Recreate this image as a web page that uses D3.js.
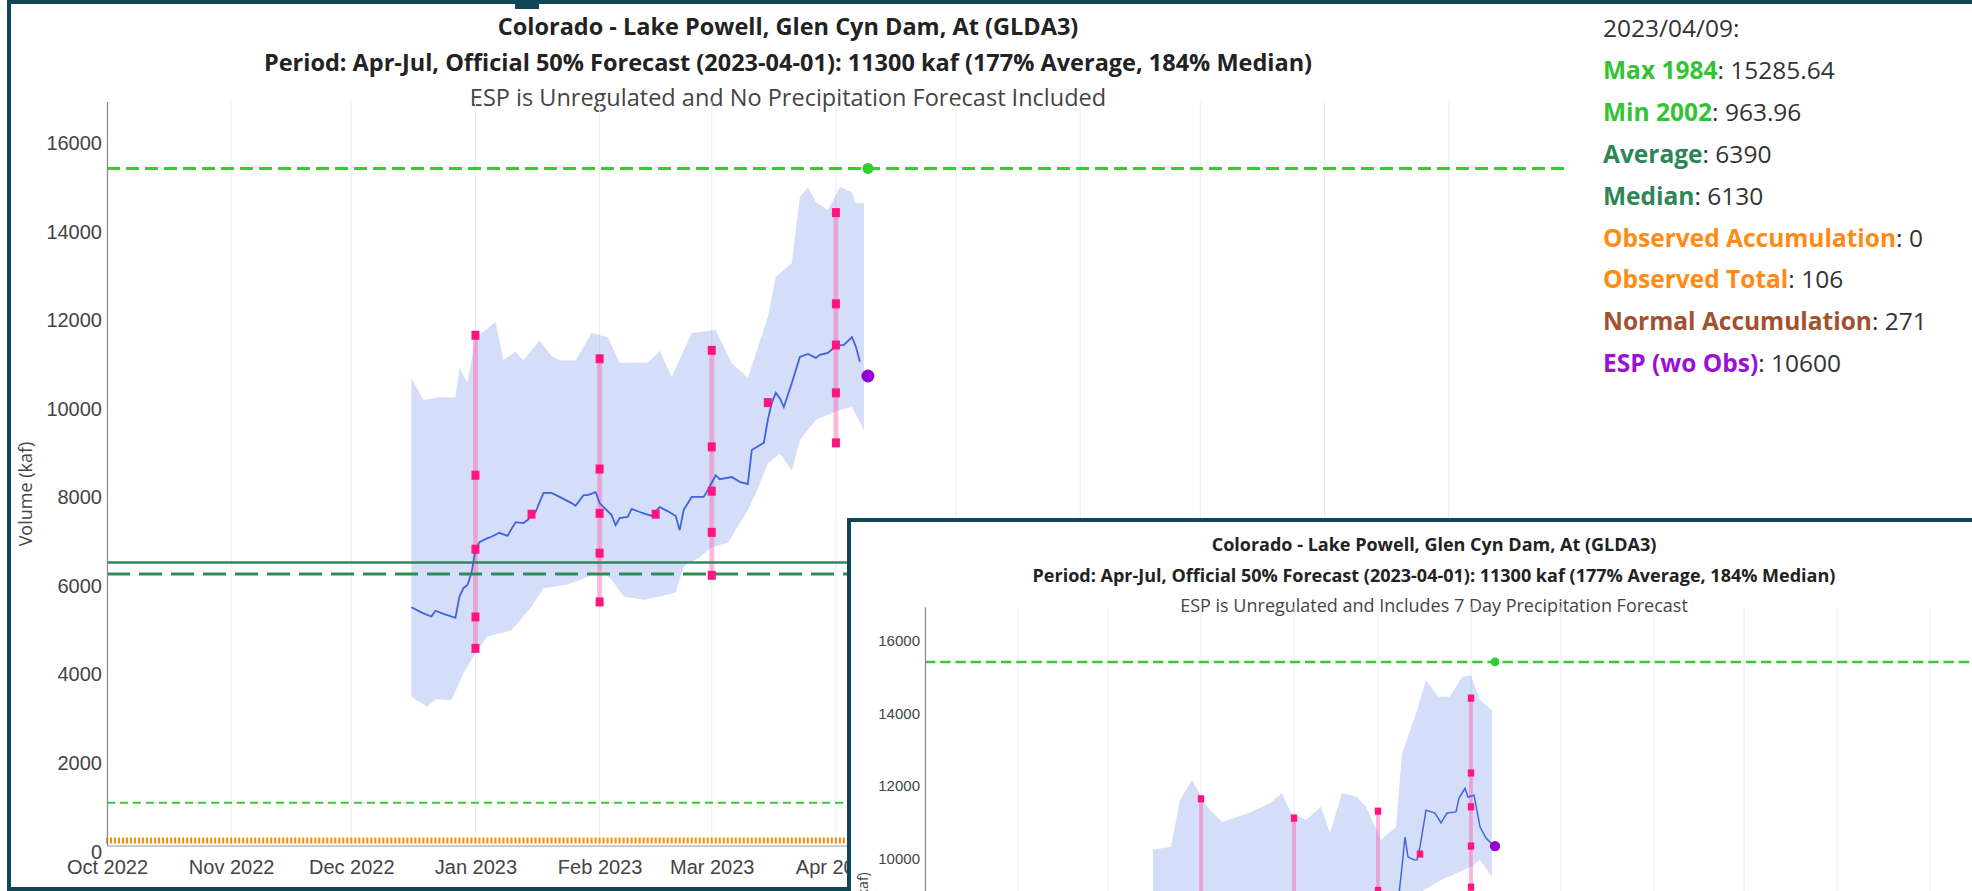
<!DOCTYPE html>
<html>
<head>
<meta charset="utf-8">
<script src="https://cdn.jsdelivr.net/npm/d3@7"></script>
<style>
body{margin:0;background:#fff;}
svg{display:block;font-family:"Open Sans",sans-serif;}
</style>
</head>
<body>
<div id="chart"></div>
<script>
// ---- data ----
var waterYear = ['2022-10-01', '2023-09-30'];
var monthTicks = ['2022-10-01','2022-11-01','2022-12-01','2023-01-01','2023-02-01','2023-03-01',
    '2023-04-01','2023-05-01','2023-06-01','2023-07-01','2023-08-01','2023-09-01'];
var yTicks = [0, 2000, 4000, 6000, 8000, 10000, 12000, 14000, 16000];

var titleLine1 = 'Colorado - Lake Powell, Glen Cyn Dam, At (GLDA3)';
var titleLine2 = 'Period: Apr-Jul, Official 50% Forecast (2023-04-01): 11300 kaf (177% Average, 184% Median)';
var subtitleMain = 'ESP is Unregulated and No Precipitation Forecast Included';
var subtitleInset = 'ESP is Unregulated and Includes 7 Day Precipitation Forecast';
var yLabel = 'Volume (kaf)';

var maxValue = 15285.64;
var minValue = 963.96;
var averageValue = 6390;
var medianValue = 6130;
var lastDate = '2023-04-09';
var espMain = 10600;
var espInset = 10220;

// observed accumulation, daily, all zero
var observedStart = '2022-10-01';
var observedEnd = '2023-04-09';
var observedValue = 0;

// official forecasts (exceedance 10/30/50/70/90)
var forecastDates = ['2023-01-01', '2023-02-01', '2023-03-01', '2023-04-01'];
var forecast10 = [11520, 10990, 11180, 14290];
var forecast30 = [8360, 8500, 9000, 12230];
var forecast50 = [6690, 7500, 8000, 11300];
var forecast70 = [5160, 6600, 7070, 10220];
var forecast90 = [4450, 5500, 6100, 9090];
var midMonthDates = ['2023-01-15', '2023-02-15', '2023-03-15'];
var midMonthValues = [7480, 7480, 10000];

// ESP trace, main chart (no precip)
var mainUpperDates = ['2022-12-16','2022-12-19','2022-12-23','2022-12-27','2022-12-28','2022-12-30',
    '2023-01-01','2023-01-03','2023-01-06','2023-01-08','2023-01-11','2023-01-13','2023-01-17','2023-01-20',
    '2023-01-22','2023-01-26','2023-01-30','2023-02-03','2023-02-06','2023-02-13','2023-02-16','2023-02-19',
    '2023-02-24','2023-03-02','2023-03-06','2023-03-10','2023-03-15','2023-03-17','2023-03-21','2023-03-23',
    '2023-03-25','2023-03-27','2023-03-30','2023-04-02','2023-04-05','2023-04-06','2023-04-08'];
var mainUpperValues = [10556,10060,10120,10120,10780,10450,11480,11600,11820,10960,11150,10950,11410,11050,
    10950,10950,11570,11480,10900,10900,11170,10580,11570,11640,10890,10560,11930,12840,13150,14640,
    14870,14530,14340,14870,14750,14500,14500];
var mainLowerDates = ['2022-12-16','2022-12-20','2022-12-22','2022-12-26','2022-12-29','2023-01-01',
    '2023-01-04','2023-01-10','2023-01-15','2023-01-18','2023-01-24','2023-01-29','2023-02-01','2023-02-04',
    '2023-02-07','2023-02-12','2023-02-16','2023-02-20','2023-02-22','2023-02-26','2023-03-01','2023-03-05',
    '2023-03-10','2023-03-12','2023-03-15','2023-03-18','2023-03-21','2023-03-23','2023-03-27','2023-04-02',
    '2023-04-05','2023-04-08'];
var mainLowerValues = [3350,3130,3300,3280,3890,4350,4720,4860,5390,5810,5890,6060,6220,6000,5620,5550,
    5620,5710,6300,6510,6740,6830,7570,7950,8630,8850,8470,9150,9610,9830,9900,9380];
var mainLineDates = ['2022-12-16','2022-12-19','2022-12-21','2022-12-22','2022-12-24','2022-12-25',
    '2022-12-27','2022-12-28','2022-12-29','2022-12-30','2022-12-31','2023-01-01','2023-01-02','2023-01-04',
    '2023-01-05','2023-01-07','2023-01-09','2023-01-11','2023-01-13','2023-01-14','2023-01-16','2023-01-18',
    '2023-01-20','2023-01-22','2023-01-25','2023-01-26','2023-01-28','2023-01-29','2023-01-31','2023-02-01',
    '2023-02-02','2023-02-04','2023-02-05','2023-02-06','2023-02-08','2023-02-09','2023-02-11','2023-02-12',
    '2023-02-14','2023-02-16','2023-02-18','2023-02-20','2023-02-21','2023-02-22','2023-02-24','2023-02-27',
    '2023-02-28','2023-03-02','2023-03-03','2023-03-06','2023-03-08','2023-03-10','2023-03-11','2023-03-14',
    '2023-03-15','2023-03-16','2023-03-17','2023-03-18','2023-03-19','2023-03-21','2023-03-23','2023-03-25',
    '2023-03-27','2023-03-28','2023-03-30','2023-04-01','2023-04-03','2023-04-05','2023-04-06','2023-04-07'];
var mainLineValues = [5380,5240,5170,5300,5230,5200,5140,5620,5810,5880,6150,6670,6850,6940,6970,7060,
    6990,7300,7280,7350,7530,7960,7960,7870,7730,7670,7910,7910,7980,7730,7640,7460,7230,7390,7420,7600,
    7530,7500,7440,7640,7550,7440,7120,7580,7870,7870,8020,8360,8270,8320,8210,8160,8930,9090,9610,10000,
    10220,10100,9900,10440,11030,11100,11010,11080,11120,11280,11300,11480,11260,10920];

// ESP trace, inset chart (7 day precip)
var insetUpperDates = ['2022-12-16','2022-12-22','2022-12-25','2022-12-29','2023-01-03','2023-01-08',
    '2023-01-17','2023-01-24','2023-01-28','2023-01-31','2023-02-05','2023-02-10','2023-02-13','2023-02-17',
    '2023-02-22','2023-02-25','2023-03-02','2023-03-07','2023-03-09','2023-03-14','2023-03-17','2023-03-21',
    '2023-03-25','2023-03-29','2023-04-01','2023-04-04','2023-04-08'];
var insetUpperValues = [10120,10200,11490,12040,11300,10880,11130,11400,11680,11130,10940,11300,10580,
    11680,11570,11300,10390,10750,12770,13960,14790,14330,14330,14870,14920,14240,13960];
var insetLowerDates = ['2022-12-16','2022-12-20','2022-12-26','2023-01-01','2023-01-15','2023-02-01',
    '2023-02-16','2023-03-01','2023-03-10','2023-03-14','2023-03-22','2023-04-01','2023-04-04','2023-04-08'];
var insetLowerValues = [3350,3130,3280,4350,5390,6220,5620,6740,7570,8900,9290,9650,9840,9370];
var insetLineDates = ['2023-03-02','2023-03-06','2023-03-08','2023-03-09','2023-03-10','2023-03-11',
    '2023-03-13','2023-03-14','2023-03-15','2023-03-17','2023-03-20','2023-03-22','2023-03-24','2023-03-27',
    '2023-03-28','2023-03-30','2023-03-31','2023-04-02','2023-04-04','2023-04-06','2023-04-08'];
var insetLineValues = [8360,8320,8900,9650,10470,9920,9840,9840,10200,11210,11130,10860,11130,11160,
    11540,11810,11570,11620,10750,10440,10280];

// hover box
var tipLabels = ['Max 1984', 'Min 2002', 'Average', 'Median', 'Observed Accumulation',
    'Observed Total', 'Normal Accumulation', 'ESP (wo Obs)'];
var tipValues = ['15285.64', '963.96', '6390', '6130', '0', '106', '271', '10600'];
var tipColors = ['#33c433', '#33c433', '#2e8656', '#2e8656', '#ff8a14', '#ff8a14', '#a0522d', '#9b10d8'];

// ---- drawing ----
var parseDay = d3.utcParse('%Y-%m-%d');
var frameColor = '#11465a';

function pairUp(dates, values){
    return dates.map(function(d, i){ return {date: parseDay(d), value: values[i]}; });
}

var svg = d3.select('#chart')
    .append('svg')
    .attr('width', 1972)
    .attr('height', 891);

function drawPanel(c){
    var g = svg.append('g');
    var s = c.scale;

    g.append('rect')
        .attr('x', c.frame[0]).attr('y', c.frame[1])
        .attr('width', c.frame[2]).attr('height', c.frame[3])
        .attr('fill', '#fff')
        .attr('stroke', frameColor)
        .attr('stroke-width', 4);

    g.append('clipPath').attr('id', 'clip-' + c.id)
        .append('rect')
        .attr('x', c.frame[0] + 2).attr('y', c.frame[1] + 2)
        .attr('width', c.frame[2] - 4).attr('height', c.frame[3] - 4);
    var body = g.append('g').attr('clip-path', 'url(#clip-' + c.id + ')');

    var x = d3.scaleUtc()
        .domain([parseDay(waterYear[0]), parseDay(waterYear[1])])
        .range([c.left, c.right]);
    var y = d3.scaleLinear()
        .domain([0, c.yTop])
        .range([c.bottom, c.top]);

    // titles
    var titles = [[titleLine1, 'bold', '#222'], [titleLine2, 'bold', '#222'], [c.subtitle, 'normal', '#444']];
    titles.forEach(function(t, i){
        body.append('text')
            .attr('x', c.titleX)
            .attr('y', c.titleY[i])
            .attr('text-anchor', 'middle')
            .style('font-size', c.titleSize + 'px')
            .style('font-weight', t[1])
            .style('fill', t[2])
            .text(t[0]);
    });

    // vertical month grid
    body.append('g')
        .selectAll('line')
        .data(monthTicks.map(parseDay))
        .enter().append('line')
        .attr('x1', function(d){ return x(d); })
        .attr('x2', function(d){ return x(d); })
        .attr('y1', c.top)
        .attr('y2', c.bottom)
        .attr('stroke', '#ececec')
        .attr('stroke-width', 1);

    // ESP range band
    var upper = pairUp(c.upperDates, c.upperValues);
    var lower = pairUp(c.lowerDates, c.lowerValues);
    var bandLine = d3.line()
        .x(function(d){ return x(d.date); })
        .y(function(d){ return y(d.value); });
    body.append('path')
        .attr('d', bandLine(upper.concat(lower.slice().reverse())) + 'Z')
        .attr('fill', 'rgb(65,105,225)')
        .attr('fill-opacity', 0.22);

    // official forecast range bars
    var fc = forecastDates.map(function(d, i){
        return {date: parseDay(d), vals: [forecast10[i], forecast30[i], forecast50[i], forecast70[i], forecast90[i]]};
    });
    body.append('g')
        .selectAll('rect')
        .data(fc)
        .enter().append('rect')
        .attr('x', function(d){ return x(d.date) - c.barW / 2; })
        .attr('y', function(d){ return y(d.vals[0]); })
        .attr('width', c.barW)
        .attr('height', function(d){ return y(d.vals[4]) - y(d.vals[0]); })
        .attr('fill', '#ff69b4')
        .attr('fill-opacity', 0.45);

    // statistic lines
    var stats = [
        [maxValue, '#33cc33', 3 * s, (13 * s) + ',' + (6 * s)],
        [minValue, '#33cc33', 2 * s, (8 * s) + ',' + (5 * s)],
        [averageValue, '#2e8b57', 2.6 * s, null],
        [medianValue, '#2e8b57', 3 * s, (23 * s) + ',' + (9 * s)]
    ];
    stats.forEach(function(st){
        body.append('line')
            .attr('x1', c.left).attr('x2', c.right)
            .attr('y1', y(st[0])).attr('y2', y(st[0]))
            .attr('stroke', st[1])
            .attr('stroke-width', st[2])
            .attr('stroke-dasharray', st[3]);
    });

    // ESP median trace
    var trace = pairUp(c.lineDates, c.lineValues);
    body.append('path')
        .datum(trace)
        .attr('d', bandLine)
        .attr('fill', 'none')
        .attr('stroke', '#3f63df')
        .attr('stroke-width', 1.8 * s);

    // forecast markers
    var marks = [];
    fc.forEach(function(d){ d.vals.forEach(function(v){ marks.push({date: d.date, value: v}); }); });
    pairUp(midMonthDates, midMonthValues).forEach(function(d){ marks.push(d); });
    body.append('g')
        .selectAll('rect')
        .data(marks)
        .enter().append('rect')
        .attr('x', function(d){ return x(d.date) - 4 * s; })
        .attr('y', function(d){ return y(d.value) - 4.5 * s; })
        .attr('width', 8 * s)
        .attr('height', 9 * s)
        .attr('fill', '#ff1480');

    // observed accumulation (daily markers along zero)
    var obsDays = d3.utcDay.range(parseDay(observedStart), d3.utcDay.offset(parseDay(observedEnd), 1));
    body.append('g')
        .selectAll('rect')
        .data(obsDays)
        .enter().append('rect')
        .attr('x', function(d){ return x(d) - 1; })
        .attr('y', y(observedValue) - 8)
        .attr('width', 2)
        .attr('height', 6)
        .attr('fill', '#ff8c00');

    // axes
    var yAxis = d3.axisLeft(y)
        .tickValues(yTicks)
        .tickFormat(d3.format('d'))
        .tickSize(0)
        .tickPadding(5);
    var yG = body.append('g')
        .attr('transform', 'translate(' + c.left + ',0)')
        .attr('font-size', c.tickSize)
        .attr('font-family', '"Open Sans",sans-serif')
        .call(yAxis);
    yG.select('.domain').attr('stroke', '#8a8a8a').attr('stroke-width', 1.2);
    yG.selectAll('text')
        .attr('dy', '0.63em')
        .attr('font-size', c.tickSize)
        .style('font-size', c.tickSize + 'px')
        .style('fill', '#444');

    var xAxis = d3.axisBottom(x)
        .tickValues(monthTicks.map(parseDay))
        .tickFormat(d3.utcFormat('%b %Y'))
        .tickSize(0)
        .tickPadding(c.xPad);
    var xG = body.append('g')
        .attr('transform', 'translate(0,' + c.bottom + ')')
        .attr('font-size', c.tickSize)
        .attr('font-family', '"Open Sans",sans-serif')
        .call(xAxis);
    xG.select('.domain').attr('stroke', '#9a9a9a').attr('stroke-width', 1);
    xG.selectAll('text')
        .style('font-size', c.tickSize + 'px')
        .style('fill', '#444');

    body.append('text')
        .attr('transform', 'translate(' + c.yLabelX + ',' + c.yLabelY + ') rotate(-90)')
        .attr('text-anchor', 'middle')
        .attr('dy', '0.35em')
        .style('font-size', c.yLabelSize + 'px')
        .style('fill', '#444')
        .text(yLabel);

    // end-of-record dots
    var lastDay = parseDay(lastDate);
    body.append('circle')
        .attr('cx', x(lastDay)).attr('cy', y(maxValue))
        .attr('r', 5.5 * s)
        .attr('fill', '#33cc33');
    body.append('circle')
        .attr('cx', x(lastDay)).attr('cy', y(c.esp))
        .attr('r', 6.5 * s)
        .attr('fill', '#9400d3');
}

// main chart
drawPanel({
    id: 'main', frame: [9, 2, 2000, 887], scale: 1,
    left: 107, right: 1564.8, top: 101.4, bottom: 845.5, yTop: 16800,
    titleX: 788, titleY: [35, 71, 106], titleSize: 23.5, subtitle: subtitleMain,
    tickSize: 20, xPad: 14.5, yLabelX: 26, yLabelY: 494, yLabelSize: 18, barW: 5,
    upperDates: mainUpperDates, upperValues: mainUpperValues,
    lowerDates: mainLowerDates, lowerValues: mainLowerValues,
    lineDates: mainLineDates, lineValues: mainLineValues, esp: espMain
});

// hover readout on the main chart
var tip = svg.append('g');
tip.append('text')
    .attr('x', 1603).attr('y', 37)
    .style('font-size', '24.5px')
    .style('fill', '#333')
    .text('2023/04/09:');
tipLabels.forEach(function(lab, i){
    var t = tip.append('text')
        .attr('x', 1603)
        .attr('y', 37 + 41.9 * (i + 1))
        .style('font-size', '24.5px');
    t.append('tspan').style('font-weight', 'bold').style('fill', tipColors[i]).text(lab);
    t.append('tspan').style('fill', '#333').text(': ' + tipValues[i]);
});
// small tab on the top frame
svg.append('rect')
    .attr('x', 515).attr('y', 0)
    .attr('width', 24).attr('height', 9)
    .attr('fill', frameColor);

// inset chart (with 7 day precip)
drawPanel({
    id: 'inset', frame: [849, 520, 1200, 400], scale: 0.8,
    left: 925, right: 2017, top: 606.9, bottom: 1217.6, yTop: 16800,
    titleX: 1434, titleY: [551, 582, 612], titleSize: 18, subtitle: subtitleInset,
    tickSize: 15, xPad: 11, yLabelX: 863, yLabelY: 913, yLabelSize: 14, barW: 4,
    upperDates: insetUpperDates, upperValues: insetUpperValues,
    lowerDates: insetLowerDates, lowerValues: insetLowerValues,
    lineDates: insetLineDates, lineValues: insetLineValues, esp: espInset
});
</script>
</body>
</html>
